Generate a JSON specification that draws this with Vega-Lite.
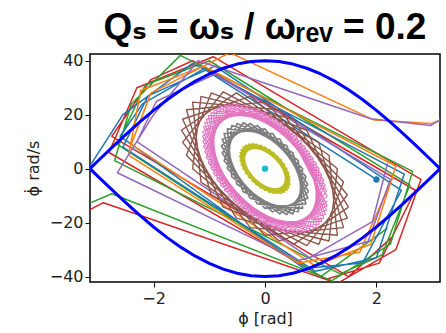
{
"$schema": "https://vega.github.io/schema/vega-lite/v6.json",
"width": 350, "height": 228,
"autosize": {"type": "none"},
"padding": {"left": 90, "top": 54, "right": 6, "bottom": 51},
"background": "white",
"config": {"view": {"stroke": "black", "strokeWidth": 1.5}},
"title": {"text": "Qₛ = ωₛ / ωᵣₑᵥ = 0.2", "font": "Liberation Sans, DejaVu Sans", "fontSize": 37, "fontWeight": "bold", "color": "black", "anchor": "middle", "offset": 6},
"datasets": {
"outer": [
{"s":"red","i":0,"x":-3.5,"y":-19},{"s":"red","i":1,"x":-2.9,"y":-12.6},{"s":"red","i":2,"x":1.3,"y":-42.5},{"s":"red","i":3,"x":2.35,"y":-30},{"s":"red","i":4,"x":2.8,"y":-4},{"s":"red","i":5,"x":-0.93,"y":41.5},{"s":"red","i":6,"x":-2.3,"y":30},{"s":"red","i":7,"x":-2.8,"y":6},{"s":"red","i":8,"x":1.1,"y":-41},{"s":"red","i":9,"x":2.05,"y":-35},{"s":"red","i":10,"x":2.7,"y":-8},{"s":"red","i":11,"x":-1.3,"y":40},{"s":"red","i":12,"x":-2.05,"y":33},{"s":"red","i":13,"x":-2.75,"y":12},{"s":"red","i":14,"x":1.5,"y":-40},{"s":"red","i":15,"x":2.3,"y":-25},
{"s":"green","i":0,"x":-3.4,"y":-15},{"s":"green","i":1,"x":-2.75,"y":-9.3},{"s":"green","i":2,"x":1.2,"y":-41.5},{"s":"green","i":3,"x":2.25,"y":-28},{"s":"green","i":4,"x":2.65,"y":-1},{"s":"green","i":5,"x":-1.52,"y":42},{"s":"green","i":6,"x":-2.4,"y":24},{"s":"green","i":7,"x":-2.7,"y":3},{"s":"green","i":8,"x":1.35,"y":-39},{"s":"green","i":9,"x":2.1,"y":-32},{"s":"green","i":10,"x":2.6,"y":-6},{"s":"green","i":11,"x":-1.0,"y":40},{"s":"green","i":12,"x":-2.15,"y":31},{"s":"green","i":13,"x":-2.65,"y":9},{"s":"green","i":14,"x":1.0,"y":-40},{"s":"green","i":15,"x":2.2,"y":-22},
{"s":"blue","i":0,"x":-3.3,"y":-4},{"s":"blue","i":1,"x":-2.55,"y":20},{"s":"blue","i":2,"x":-1.3,"y":39},{"s":"blue","i":3,"x":2.5,"y":-2},{"s":"blue","i":4,"x":2.0,"y":-33},{"s":"blue","i":5,"x":0.9,"y":-38},{"s":"blue","i":6,"x":-2.55,"y":8},{"s":"blue","i":7,"x":-2.1,"y":27},{"s":"blue","i":8,"x":-0.9,"y":38},{"s":"blue","i":9,"x":2.45,"y":-8},{"s":"blue","i":10,"x":1.75,"y":-35},{"s":"blue","i":11,"x":0.7,"y":-37},{"s":"blue","i":12,"x":-2.6,"y":12},{"s":"blue","i":13,"x":-2.2,"y":24},{"s":"blue","i":14,"x":-1.1,"y":37},{"s":"blue","i":15,"x":2.0,"y":-4},
{"s":"orange","i":0,"x":2.3,"y":-3},{"s":"orange","i":1,"x":1.7,"y":-31},{"s":"orange","i":2,"x":0.6,"y":-35},{"s":"orange","i":3,"x":-2.45,"y":5},{"s":"orange","i":4,"x":-2.23,"y":29},{"s":"orange","i":5,"x":-1.1,"y":38},{"s":"orange","i":6,"x":2.35,"y":1},{"s":"orange","i":7,"x":1.9,"y":-28},{"s":"orange","i":8,"x":0.9,"y":-36},{"s":"orange","i":9,"x":-2.4,"y":9},{"s":"orange","i":10,"x":-2.05,"y":28},{"s":"orange","i":11,"x":-0.63,"y":43},{"s":"orange","i":12,"x":1.96,"y":18},{"s":"orange","i":13,"x":2.98,"y":16.7},{"s":"orange","i":14,"x":3.4,"y":20},
{"s":"purple","i":0,"x":2.2,"y":2},{"s":"purple","i":1,"x":1.93,"y":-19.6},{"s":"purple","i":2,"x":0.8,"y":-33},{"s":"purple","i":3,"x":-2.3,"y":10},{"s":"purple","i":4,"x":-1.95,"y":25},{"s":"purple","i":5,"x":-0.9,"y":35},{"s":"purple","i":6,"x":2.25,"y":-4},{"s":"purple","i":7,"x":1.85,"y":-27},{"s":"purple","i":8,"x":0.6,"y":-34},{"s":"purple","i":9,"x":-2.65,"y":-1.5},{"s":"purple","i":10,"x":-2.0,"y":20},{"s":"purple","i":11,"x":-1.2,"y":40},{"s":"purple","i":12,"x":1.9,"y":18.5},{"s":"purple","i":13,"x":2.97,"y":16},{"s":"purple","i":14,"x":3.3,"y":20}
],
"brown": [
{"i":0,"x":1.5,"y":-14.25},{"i":1,"x":0.513,"y":-28.07},{"i":2,"x":-1.149,"y":-4.96},{"i":3,"x":-1.299,"y":24.68},{"i":4,"x":0.261,"y":21.83},{"i":5,"x":1.478,"y":-9.75},{"i":6,"x":0.75,"y":-28.5},{"i":7,"x":-0.965,"y":-9.75},{"i":8,"x":-1.41,"y":21.83},{"i":9,"x":0,"y":24.68},{"i":10,"x":1.41,"y":-4.96},{"i":11,"x":0.965,"y":-28.07},{"i":12,"x":-0.75,"y":-14.25},{"i":13,"x":-1.478,"y":18.33},{"i":14,"x":-0.261,"y":26.79},{"i":15,"x":1.299,"y":0},{"i":16,"x":1.149,"y":-26.79},{"i":17,"x":-0.513,"y":-18.33},{"i":18,"x":-1.5,"y":14.25},{"i":19,"x":-0.513,"y":28.07},{"i":20,"x":1.149,"y":4.96},{"i":21,"x":1.299,"y":-24.68},{"i":22,"x":-0.261,"y":-21.83},{"i":23,"x":-1.478,"y":9.75},{"i":24,"x":-0.75,"y":28.5},{"i":25,"x":0.965,"y":9.75},{"i":26,"x":1.41,"y":-21.83},{"i":27,"x":0,"y":-24.68},{"i":28,"x":-1.41,"y":4.96},{"i":29,"x":-0.965,"y":28.07},{"i":30,"x":0.75,"y":14.25},{"i":31,"x":1.478,"y":-18.33},{"i":32,"x":0.261,"y":-26.79},{"i":33,"x":-1.299,"y":0},{"i":34,"x":-1.149,"y":26.79},{"i":35,"x":0.513,"y":18.33},{"i":36,"x":1.5,"y":-14.25}
],
"pink": [
{"i":0,"x":1.12,"y":-12},{"i":1,"x":0.383,"y":-23.64},{"i":2,"x":-0.858,"y":-4.18},{"i":3,"x":-0.97,"y":20.78},{"i":4,"x":0.195,"y":18.38},{"i":5,"x":1.103,"y":-8.21},{"i":6,"x":0.56,"y":-24},{"i":7,"x":-0.72,"y":-8.21},{"i":8,"x":-1.053,"y":18.38},{"i":9,"x":0,"y":20.78},{"i":10,"x":1.053,"y":-4.18},{"i":11,"x":0.72,"y":-23.64},{"i":12,"x":-0.56,"y":-12},{"i":13,"x":-1.103,"y":15.43},{"i":14,"x":-0.195,"y":22.56},{"i":15,"x":0.97,"y":0},{"i":16,"x":0.858,"y":-22.56},{"i":17,"x":-0.383,"y":-15.43},{"i":18,"x":-1.12,"y":12},{"i":19,"x":-0.383,"y":23.64},{"i":20,"x":0.858,"y":4.18},{"i":21,"x":0.97,"y":-20.78},{"i":22,"x":-0.195,"y":-18.38},{"i":23,"x":-1.103,"y":8.21},{"i":24,"x":-0.56,"y":24},{"i":25,"x":0.72,"y":8.21},{"i":26,"x":1.053,"y":-18.38},{"i":27,"x":0,"y":-20.78},{"i":28,"x":-1.053,"y":4.18},{"i":29,"x":-0.72,"y":23.64},{"i":30,"x":0.56,"y":12},{"i":31,"x":1.103,"y":-15.43},{"i":32,"x":0.195,"y":-22.56},{"i":33,"x":-0.97,"y":0},{"i":34,"x":-0.858,"y":22.56},{"i":35,"x":0.383,"y":15.43},
{"i":36,"x":1.116,"y":-13.78},{"i":37,"x":0.29,"y":-23.18},{"i":38,"x":-0.917,"y":-2.09},{"i":39,"x":-0.917,"y":21.74},{"i":40,"x":0.29,"y":16.97},{"i":41,"x":1.116,"y":-10.15},{"i":42,"x":0.474,"y":-23.9},{"i":43,"x":-0.792,"y":-6.22},{"i":44,"x":-1.015,"y":19.66},{"i":45,"x":0.097,"y":19.66},{"i":46,"x":1.082,"y":-6.22},{"i":47,"x":0.643,"y":-23.9},{"i":48,"x":-0.643,"y":-10.15},{"i":49,"x":-1.082,"y":16.97},{"i":50,"x":-0.097,"y":21.74},{"i":51,"x":1.015,"y":-2.09},{"i":52,"x":0.792,"y":-23.18},{"i":53,"x":-0.474,"y":-13.78},{"i":54,"x":-1.116,"y":13.78},{"i":55,"x":-0.29,"y":23.18},{"i":56,"x":0.917,"y":2.09},{"i":57,"x":0.917,"y":-21.74},{"i":58,"x":-0.29,"y":-16.97},{"i":59,"x":-1.116,"y":10.15},{"i":60,"x":-0.474,"y":23.9},{"i":61,"x":0.792,"y":6.22},{"i":62,"x":1.015,"y":-19.66},{"i":63,"x":-0.097,"y":-19.66},{"i":64,"x":-1.082,"y":6.22},{"i":65,"x":-0.643,"y":23.9},{"i":66,"x":0.643,"y":10.15},{"i":67,"x":1.082,"y":-16.97},{"i":68,"x":0.097,"y":-21.74},{"i":69,"x":-1.015,"y":2.09},{"i":70,"x":-0.792,"y":23.18},{"i":71,"x":0.474,"y":13.78},{"i":72,"x":1.116,"y":-13.78}
],
"gray": [
{"i":0,"x":0.78,"y":-8.5},{"i":1,"x":0.267,"y":-16.75},{"i":2,"x":-0.597,"y":-2.96},{"i":3,"x":-0.675,"y":14.72},{"i":4,"x":0.136,"y":13.02},{"i":5,"x":0.768,"y":-5.81},{"i":6,"x":0.39,"y":-17},{"i":7,"x":-0.502,"y":-5.81},{"i":8,"x":-0.733,"y":13.02},{"i":9,"x":0,"y":14.72},{"i":10,"x":0.733,"y":-2.96},{"i":11,"x":0.502,"y":-16.75},{"i":12,"x":-0.39,"y":-8.5},{"i":13,"x":-0.768,"y":10.93},{"i":14,"x":-0.136,"y":15.98},{"i":15,"x":0.675,"y":0},{"i":16,"x":0.597,"y":-15.98},{"i":17,"x":-0.267,"y":-10.93},{"i":18,"x":-0.78,"y":8.5},{"i":19,"x":-0.267,"y":16.75},{"i":20,"x":0.597,"y":2.96},{"i":21,"x":0.675,"y":-14.72},{"i":22,"x":-0.136,"y":-13.02},{"i":23,"x":-0.768,"y":5.81},{"i":24,"x":-0.39,"y":17},{"i":25,"x":0.502,"y":5.81},{"i":26,"x":0.733,"y":-13.02},{"i":27,"x":0,"y":-14.72},{"i":28,"x":-0.733,"y":2.96},{"i":29,"x":-0.502,"y":16.75},{"i":30,"x":0.39,"y":8.5},{"i":31,"x":0.768,"y":-10.93},{"i":32,"x":0.136,"y":-15.98},{"i":33,"x":-0.675,"y":0},{"i":34,"x":-0.597,"y":15.98},{"i":35,"x":0.267,"y":10.93},{"i":36,"x":0.78,"y":-8.5}
],
"olive": [
{"i":0,"x":0.45,"y":-4.6},{"i":1,"x":0.154,"y":-9.06},{"i":2,"x":-0.345,"y":-1.6},{"i":3,"x":-0.39,"y":7.97},{"i":4,"x":0.078,"y":7.05},{"i":5,"x":0.443,"y":-3.15},{"i":6,"x":0.225,"y":-9.2},{"i":7,"x":-0.289,"y":-3.15},{"i":8,"x":-0.423,"y":7.05},{"i":9,"x":0,"y":7.97},{"i":10,"x":0.423,"y":-1.6},{"i":11,"x":0.289,"y":-9.06},{"i":12,"x":-0.225,"y":-4.6},{"i":13,"x":-0.443,"y":5.92},{"i":14,"x":-0.078,"y":8.65},{"i":15,"x":0.39,"y":0},{"i":16,"x":0.345,"y":-8.65},{"i":17,"x":-0.154,"y":-5.92},{"i":18,"x":-0.45,"y":4.6},{"i":19,"x":-0.154,"y":9.06},{"i":20,"x":0.345,"y":1.6},{"i":21,"x":0.39,"y":-7.97},{"i":22,"x":-0.078,"y":-7.05},{"i":23,"x":-0.443,"y":3.15},{"i":24,"x":-0.225,"y":9.2},{"i":25,"x":0.289,"y":3.15},{"i":26,"x":0.423,"y":-7.05},{"i":27,"x":0,"y":-7.97},{"i":28,"x":-0.423,"y":1.6},{"i":29,"x":-0.289,"y":9.06},{"i":30,"x":0.225,"y":4.6},{"i":31,"x":0.443,"y":-5.92},{"i":32,"x":0.078,"y":-8.65},{"i":33,"x":-0.39,"y":0},{"i":34,"x":-0.345,"y":8.65},{"i":35,"x":0.154,"y":5.92},{"i":36,"x":0.45,"y":-4.6}
],
"sep": [
{"p":"u","i":0,"x":-3.1416,"y":0},{"p":"u","i":1,"x":-3.0,"y":2.83},{"p":"u","i":2,"x":-2.75,"y":7.78},{"p":"u","i":3,"x":-2.5,"y":12.61},{"p":"u","i":4,"x":-2.25,"y":17.25},{"p":"u","i":5,"x":-2.0,"y":21.61},{"p":"u","i":6,"x":-1.75,"y":25.64},{"p":"u","i":7,"x":-1.5,"y":29.27},{"p":"u","i":8,"x":-1.25,"y":32.44},{"p":"u","i":9,"x":-1.0,"y":35.1},{"p":"u","i":10,"x":-0.75,"y":37.22},{"p":"u","i":11,"x":-0.5,"y":38.76},{"p":"u","i":12,"x":-0.25,"y":39.69},{"p":"u","i":13,"x":0,"y":40},{"p":"u","i":14,"x":0.25,"y":39.69},{"p":"u","i":15,"x":0.5,"y":38.76},{"p":"u","i":16,"x":0.75,"y":37.22},{"p":"u","i":17,"x":1.0,"y":35.1},{"p":"u","i":18,"x":1.25,"y":32.44},{"p":"u","i":19,"x":1.5,"y":29.27},{"p":"u","i":20,"x":1.75,"y":25.64},{"p":"u","i":21,"x":2.0,"y":21.61},{"p":"u","i":22,"x":2.25,"y":17.25},{"p":"u","i":23,"x":2.5,"y":12.61},{"p":"u","i":24,"x":2.75,"y":7.78},{"p":"u","i":25,"x":3.0,"y":2.83},{"p":"u","i":26,"x":3.1416,"y":0},
{"p":"l","i":0,"x":-3.1416,"y":0},{"p":"l","i":1,"x":-3.0,"y":-2.83},{"p":"l","i":2,"x":-2.75,"y":-7.78},{"p":"l","i":3,"x":-2.5,"y":-12.61},{"p":"l","i":4,"x":-2.25,"y":-17.25},{"p":"l","i":5,"x":-2.0,"y":-21.61},{"p":"l","i":6,"x":-1.75,"y":-25.64},{"p":"l","i":7,"x":-1.5,"y":-29.27},{"p":"l","i":8,"x":-1.25,"y":-32.44},{"p":"l","i":9,"x":-1.0,"y":-35.1},{"p":"l","i":10,"x":-0.75,"y":-37.22},{"p":"l","i":11,"x":-0.5,"y":-38.76},{"p":"l","i":12,"x":-0.25,"y":-39.69},{"p":"l","i":13,"x":0,"y":-40},{"p":"l","i":14,"x":0.25,"y":-39.69},{"p":"l","i":15,"x":0.5,"y":-38.76},{"p":"l","i":16,"x":0.75,"y":-37.22},{"p":"l","i":17,"x":1.0,"y":-35.1},{"p":"l","i":18,"x":1.25,"y":-32.44},{"p":"l","i":19,"x":1.5,"y":-29.27},{"p":"l","i":20,"x":1.75,"y":-25.64},{"p":"l","i":21,"x":2.0,"y":-21.61},{"p":"l","i":22,"x":2.25,"y":-17.25},{"p":"l","i":23,"x":2.5,"y":-12.61},{"p":"l","i":24,"x":2.75,"y":-7.78},{"p":"l","i":25,"x":3.0,"y":-2.83},{"p":"l","i":26,"x":3.1416,"y":0}
],
"dots": [
{"s":"cyan","x":0,"y":0},{"s":"blue","x":2.0,"y":-4}
]
},
"encoding": {
"x": {"field": "x", "type": "quantitative", "scale": {"domain": [-3.1416, 3.1416], "nice": false, "zero": false},
 "axis": {"title": "ϕ [rad]", "values": [-2, 0, 2], "grid": false, "domain": false, "tickSize": 5, "tickColor": "black", "tickWidth": 1, "labelFont": "DejaVu Sans", "labelFontSize": 16, "labelColor": "#222", "labelPadding": 3, "titleFont": "DejaVu Sans", "titleFontSize": 16, "titleFontWeight": "normal", "titleColor": "#222", "titlePadding": 4}},
"y": {"field": "y", "type": "quantitative", "scale": {"domain": [-42, 42.5], "nice": false, "zero": false},
 "axis": {"title": "ϕ̇ rad/s", "values": [-40, -20, 0, 20, 40], "grid": false, "domain": false, "tickSize": 5, "tickColor": "black", "tickWidth": 1, "labelFont": "DejaVu Sans", "labelFontSize": 16, "labelColor": "#222", "labelPadding": 2, "titleFont": "DejaVu Sans", "titleFontSize": 16, "titleFontWeight": "normal", "titleColor": "#222", "titlePadding": 8}}
},
"layer": [
{"data": {"name": "outer"}, "mark": {"type": "line", "clip": true, "strokeWidth": 1.5, "strokeJoin": "round"},
 "encoding": {"color": {"field": "s", "type": "nominal", "legend": null, "scale": {"domain": ["blue", "orange", "green", "red", "purple", "cyan"], "range": ["#1f77b4", "#ff7f0e", "#2ca02c", "#d62728", "#9467bd", "#17becf"]}}, "order": {"field": "i", "type": "quantitative"}}},
{"data": {"name": "brown"}, "mark": {"type": "line", "clip": true, "strokeWidth": 1.4, "color": "#8c564b", "strokeJoin": "round"}, "encoding": {"order": {"field": "i", "type": "quantitative"}}},
{"data": {"name": "pink"}, "mark": {"type": "line", "clip": true, "strokeWidth": 1.2, "color": "#e377c2", "strokeJoin": "round"}, "encoding": {"order": {"field": "i", "type": "quantitative"}}},
{"data": {"name": "gray"}, "mark": {"type": "line", "clip": true, "strokeWidth": 1.7, "color": "#7f7f7f", "strokeJoin": "round"}, "encoding": {"order": {"field": "i", "type": "quantitative"}}},
{"data": {"name": "olive"}, "mark": {"type": "line", "clip": true, "strokeWidth": 1.9, "color": "#bcbd22", "strokeJoin": "round"}, "encoding": {"order": {"field": "i", "type": "quantitative"}}},
{"data": {"name": "sep"}, "mark": {"type": "line", "clip": true, "strokeWidth": 3, "color": "#0000ff", "strokeJoin": "round"}, "encoding": {"detail": {"field": "p", "type": "nominal"}, "order": {"field": "i", "type": "quantitative"}}},
{"data": {"name": "dots"}, "mark": {"type": "point", "filled": true, "size": 40, "opacity": 1},
 "encoding": {"color": {"field": "s", "type": "nominal", "legend": null}}}
]
}
